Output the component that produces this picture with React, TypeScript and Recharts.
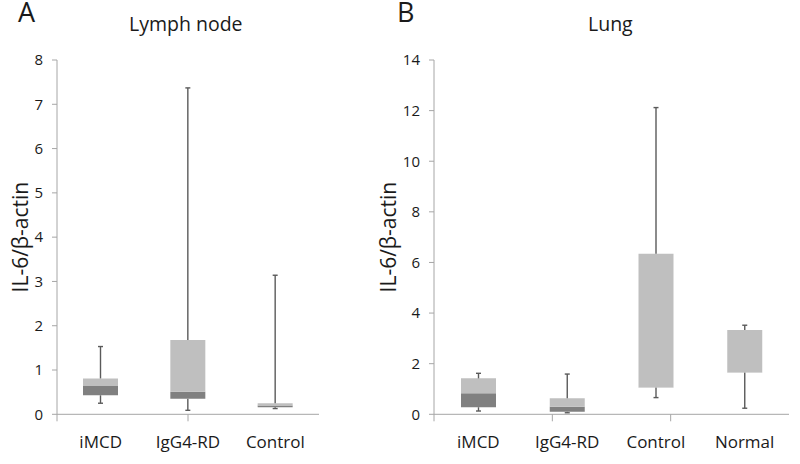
import { BarChart, Bar, XAxis, YAxis } from "recharts";

// Lymph node (A)
const lnCategories = ["iMCD", "IgG4-RD", "Control"];
const lnMin = [0.25, 0.09, 0.13];
const lnQ1 = [0.43, 0.35, 0.16];
const lnMedian = [0.64, 0.51, 0.2];
const lnQ3 = [0.81, 1.68, 0.25];
const lnMax = [1.53, 7.37, 3.14];
const lnTicks = [0, 1, 2, 3, 4, 5, 6, 7, 8];

// Lung (B)
const lungCategories = ["iMCD", "IgG4-RD", "Control", "Normal"];
const lungMin = [0.13, 0.06, 0.66, 0.24];
const lungQ1 = [0.28, 0.1, 1.06, 1.65];
const lungMedian = [0.83, 0.3, 1.07, 1.66];
const lungQ3 = [1.42, 0.63, 6.34, 3.33];
const lungMax = [1.62, 1.59, 12.12, 3.52];
const lungTicks = [0, 2, 4, 6, 8, 10, 12, 14];

const FONT = "'Open Sans', sans-serif";
const LIGHT = "#bfbfbf";
const DARK = "#808080";
const WHISKER = "#5a5a5a";
const AXIS = "#a6a6a6";

function buildRows(cats: string[], min: number[], q1: number[], med: number[], q3: number[], max: number[]) {
  return cats.map((name, i) => ({
    name,
    base: min[i],
    lowWhisker: q1[i] - min[i],
    lowBox: med[i] - q1[i],
    highBox: q3[i] - med[i],
    highWhisker: max[i] - q3[i],
  }));
}

// whisker drawn inside the stacked segment, cap at the far end
const whiskerShape = (capAtTop: boolean) => (props: any) => {
  const { x, y, width, height } = props;
  if (height == null || width == null) return <g />;
  const cx = x + width / 2;
  const capY = capAtTop ? y : y + height;
  return (
    <g>
      <line x1={cx} x2={cx} y1={y} y2={y + height} stroke={WHISKER} strokeWidth={1.4} />
      <line x1={cx - 2.5} x2={cx + 2.5} y1={capY} y2={capY} stroke={WHISKER} strokeWidth={1.4} />
    </g>
  );
};

interface PanelProps {
  rows: ReturnType<typeof buildRows>;
  ticks: number[];
  width: number;
  axisWidth: number;
  labelOffset: number;
}

function BoxPanel({ rows, ticks, width, axisWidth, labelOffset }: PanelProps) {
  const n = rows.length;
  const edgeTicks = Array.from({ length: n + 1 }, (_, i) => i);
  return (
    <BarChart width={width} height={464} data={rows} margin={{ top: 60, right: 11, bottom: 11.7, left: 0 }} barSize={35}>
      <XAxis
        xAxisId="a"
        type="number"
        domain={[0, n]}
        ticks={edgeTicks}
        allowDataOverflow
        height={8}
        tick={() => <g />}
        tickSize={7}
        stroke={AXIS}
        tickLine={{ stroke: AXIS }}
      />
      <XAxis
        xAxisId="b"
        dataKey="name"
        height={30}
        axisLine={false}
        tickLine={false}
        tickSize={0}
        tickMargin={14}
        tick={{ fill: "#1a1a1a", fontSize: 17, fontFamily: FONT }}
      />
      <YAxis
        domain={[0, ticks[ticks.length - 1]]}
        ticks={ticks}
        width={axisWidth}
        tickSize={5}
        tickMargin={9}
        stroke={AXIS}
        tick={{ fill: "#1a1a1a", fontSize: 15, fontFamily: FONT }}
        label={{
          value: "IL-6/β-actin",
          angle: -90,
          position: "insideLeft",
          offset: labelOffset,
          style: { textAnchor: "middle", fontSize: 21, fontFamily: FONT, fill: "#1a1a1a" },
        }}
      />
      <Bar xAxisId="b" dataKey="base" stackId="box" fill="transparent" isAnimationActive={false} />
      <Bar xAxisId="b" dataKey="lowWhisker" stackId="box" shape={whiskerShape(false)} isAnimationActive={false} />
      <Bar xAxisId="b" dataKey="lowBox" stackId="box" fill={DARK} isAnimationActive={false} />
      <Bar xAxisId="b" dataKey="highBox" stackId="box" fill={LIGHT} isAnimationActive={false} />
      <Bar xAxisId="b" dataKey="highWhisker" stackId="box" shape={whiskerShape(true)} isAnimationActive={false} />
    </BarChart>
  );
}

const panelLetter = { position: "absolute" as const, top: 0, fontSize: 27, lineHeight: "23px", color: "#1a1a1a", fontFamily: FONT };

export default function App() {
  const lnRows = buildRows(lnCategories, lnMin, lnQ1, lnMedian, lnQ3, lnMax);
  const lungRows = buildRows(lungCategories, lungMin, lungQ1, lungMedian, lungQ3, lungMax);
  return (
    <div style={{ position: "absolute", left: 0, top: 0, width: 800, height: 464, background: "#fff", fontFamily: FONT }}>
      <div style={{ ...panelLetter, left: 18 }}>A</div>
      <div style={{ ...panelLetter, left: 397 }}>B</div>
      <svg width={800} height={464} style={{ position: "absolute", left: 0, top: 0 }}>
        <text x={129} y={31} fontSize={19.5} fill="#1a1a1a" fontFamily={FONT}>Lymph node</text>
        <text x={588} y={31} fontSize={19.5} fill="#1a1a1a" fontFamily={FONT}>Lung</text>
      </svg>
      <div style={{ position: "absolute", left: 0, top: 0 }}>
        <BoxPanel rows={lnRows} ticks={lnTicks} width={330} axisWidth={57} labelOffset={21} />
      </div>
      <div style={{ position: "absolute", left: 366, top: 0 }}>
        <BoxPanel rows={lungRows} ticks={lungTicks} width={434} axisWidth={68} labelOffset={23} />
      </div>
    </div>
  );
}
